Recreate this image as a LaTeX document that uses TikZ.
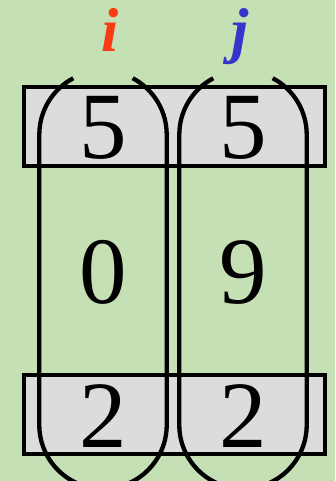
\documentclass[tikz,border=0pt]{standalone}
\usepackage{fontspec}
\setmainfont{Liberation Serif}
\definecolor{bggreen}{HTML}{C5E0B4}
\definecolor{cellgray}{HTML}{DCDCDC}
\definecolor{ired}{HTML}{F93A12}
\definecolor{jblue}{HTML}{3535CC}
\tikzset{
  cellrow/.style={fill=cellgray, draw=black, line width=4pt},
  capsule/.style={draw=black, line width=4.3pt},
  digit/.style={anchor=base, inner sep=0pt, font=\fontsize{95}{95}\selectfont},
  idx/.style={anchor=base, inner sep=0pt, font=\fontsize{62}{62}\selectfont\bfseries\itshape}
}
\begin{document}
\begin{tikzpicture}[x=1pt,y=1pt]
\useasboundingbox (0,0) rectangle (335,481);
\clip (0,0) rectangle (335,481);
\fill[bggreen] (0,0) rectangle (335,481);
% cell rows
\draw[cellrow] (24,315) rectangle (325,394);
\draw[cellrow] (24,27) rectangle (325,106);
% capsules
\draw[capsule] (73.3,402.75) arc[start angle=117.8, end angle=180, radius=63.7]
  -- (39.3,56) arc[start angle=180, end angle=360, radius=63.7]
  -- (166.7,346.4) arc[start angle=0, end angle=62.2, radius=63.7];
\draw[capsule] (213.3,402.75) arc[start angle=117.8, end angle=180, radius=63.7]
  -- (179.3,56) arc[start angle=180, end angle=360, radius=63.7]
  -- (306.7,346.4) arc[start angle=0, end angle=62.2, radius=63.7];
% labels
\node[idx, text=ired] (li) at (110,429) {i};
\node[idx, text=jblue] (lj) at (240,429) {j};
% digits
\node[digit] (a1) at (103,322) {5};
\node[digit] (b1) at (243,322) {5};
\node[digit] (a2) at (103,177) {0};
\node[digit] (b2) at (243,177) {9};
\node[digit] (a3) at (103,33) {2};
\node[digit] (b3) at (243,33) {2};
\end{tikzpicture}
\end{document}
